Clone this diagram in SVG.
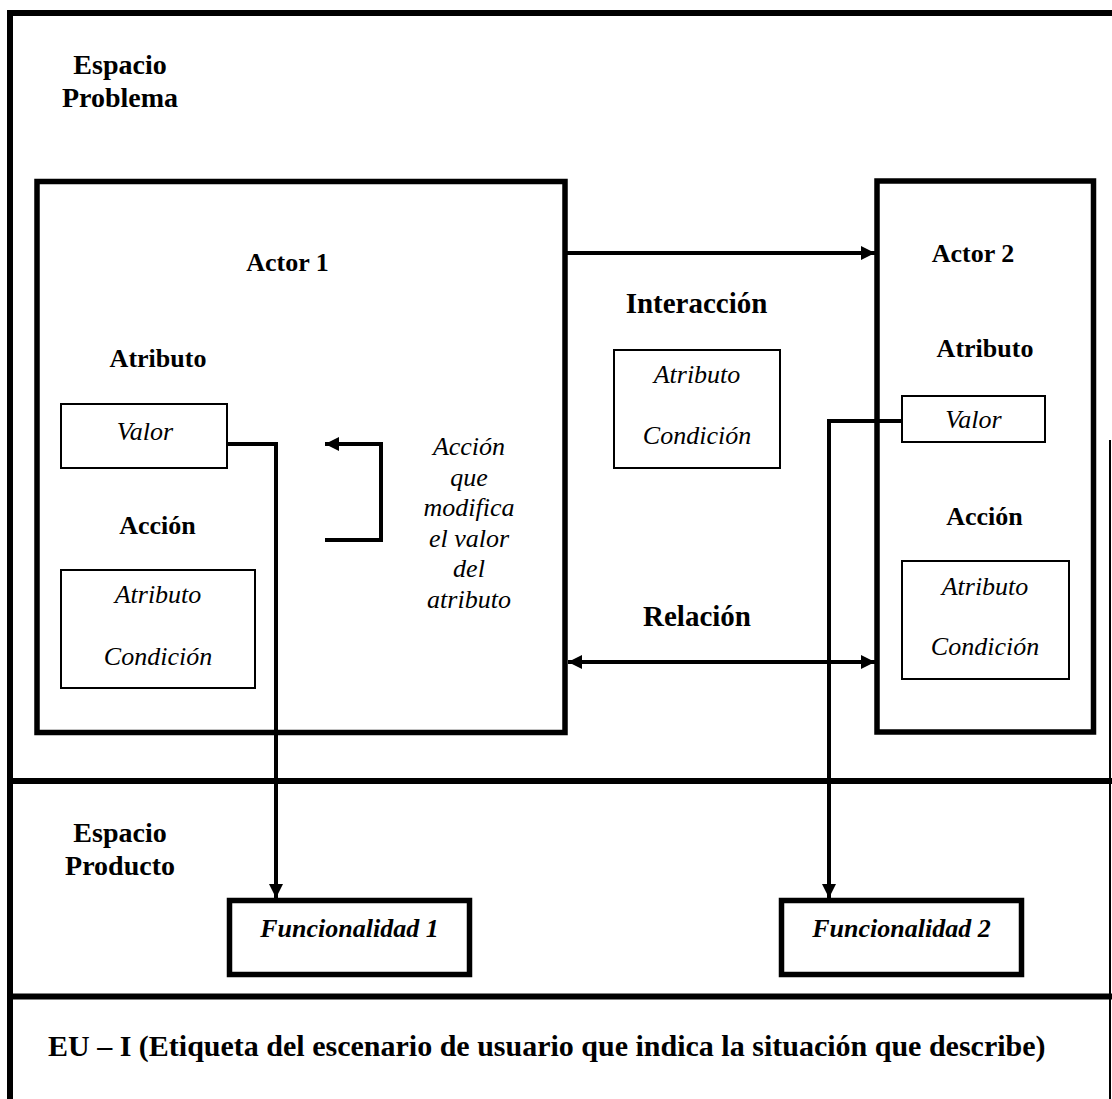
<svg xmlns="http://www.w3.org/2000/svg" width="1112" height="1099" viewBox="0 0 1112 1099">
<defs>
<style>
text{font-family:"Liberation Serif","Times New Roman",serif;fill:#000}
.b{font-weight:bold}
.h{font-size:28px;font-weight:bold}
.l{font-size:29px;font-weight:bold;text-anchor:middle}
.t{font-size:26px;font-weight:bold;text-anchor:middle}
.i{font-size:26px;font-style:italic;text-anchor:middle}
.f{font-size:26px;font-style:italic;font-weight:bold;text-anchor:middle}
.thick{fill:none;stroke:#000;stroke-width:5.5}
.thin{fill:#fff;stroke:#000;stroke-width:2}
.fb{fill:#fff;stroke:#000;stroke-width:5.5}
.con{fill:none;stroke:#000;stroke-width:4}
.sep{stroke:#000;stroke-width:6}
</style>
<marker id="ah" viewBox="0 0 14 14" refX="14" refY="7" markerWidth="14" markerHeight="14" markerUnits="userSpaceOnUse" orient="auto-start-reverse">
<path d="M0,0 L14,7 L0,14 Z" fill="#000"/>
</marker>
</defs>
<rect width="1112" height="1099" fill="#fff"/>
<g id="frame">
<line class="sep" x1="7" y1="13" x2="1112" y2="13"/>
<line class="sep" x1="10" y1="10" x2="10" y2="1099" stroke-width="6.5"/>
<line stroke="#000" stroke-width="2" x1="1110" y1="440" x2="1110" y2="1099"/>
<line class="sep" x1="10" y1="781" x2="1112" y2="781"/>
<line class="sep" x1="10" y1="996.5" x2="1112" y2="996.5" stroke-width="7"/>
</g>
<g id="espacio-problema">
<text class="h" x="120" y="74" text-anchor="middle">Espacio</text>
<text class="h" x="120" y="107" text-anchor="middle">Problema</text>
</g>
<g id="actor1">
<rect class="thick" x="37" y="181.5" width="528" height="551"/>
<text class="t" x="287.5" y="271">Actor 1</text>
<text class="t" x="158" y="367">Atributo</text>
<text class="t" x="157.5" y="534">Acción</text>
</g>
<g id="valor1">
<rect class="thin" x="61" y="404" width="166" height="64"/>
<text class="i" x="145" y="440">Valor</text>
</g>
<g id="accion1">
<rect class="thin" x="61" y="570" width="194" height="118"/>
<text class="i" x="158" y="603">Atributo</text>
<text class="i" x="158" y="665">Condición</text>
</g>
<g id="accion-texto">
<text class="i" x="469" y="455">Acción</text>
<text class="i" x="469" y="485.5">que</text>
<text class="i" x="469" y="516">modifica</text>
<text class="i" x="469" y="546.5">el valor</text>
<text class="i" x="469" y="577">del</text>
<text class="i" x="469" y="607.5">atributo</text>
</g>
<g id="interaccion">
<text class="l" x="696.5" y="313">Interacción</text>
<rect class="thin" x="614" y="350" width="166" height="118"/>
<text class="i" x="697" y="383">Atributo</text>
<text class="i" x="697" y="444">Condición</text>
</g>
<g id="relacion">
<text class="l" x="697" y="626">Relación</text>
</g>
<g id="actor2">
<rect class="thick" x="877" y="181" width="216.5" height="551"/>
<text class="t" x="973" y="262">Actor 2</text>
<text class="t" x="985" y="357">Atributo</text>
<text class="t" x="984.5" y="525">Acción</text>
</g>
<g id="valor2">
<rect class="thin" x="902" y="396" width="143" height="46"/>
<text class="i" x="973.5" y="428">Valor</text>
</g>
<g id="accion2">
<rect class="thin" x="902" y="561" width="167" height="118"/>
<text class="i" x="985" y="595">Atributo</text>
<text class="i" x="985" y="655">Condición</text>
</g>
<g id="espacio-producto">
<text class="h" x="120" y="842" text-anchor="middle">Espacio</text>
<text class="h" x="120" y="875" text-anchor="middle">Producto</text>
</g>
<g id="funcionalidad1">
<rect class="fb" x="229.5" y="900.5" width="240" height="74"/>
<text class="f" x="349.5" y="937">Funcionalidad 1</text>
</g>
<g id="funcionalidad2">
<rect class="fb" x="781.5" y="900.5" width="240" height="74"/>
<text class="f" x="901.5" y="937">Funcionalidad 2</text>
</g>
<g id="etiqueta">
<text class="b" x="48" y="1056" font-size="30">EU – I (Etiqueta del escenario de usuario que indica la situación que describe)</text>
</g>
<g id="connectors">
<path class="con" d="M567,253 H875" marker-end="url(#ah)"/>
<path class="con" d="M568,662 H875" marker-start="url(#ah)" marker-end="url(#ah)"/>
<path class="con" d="M325,540 H381 V444 H325" marker-end="url(#ah)"/>
<path class="con" d="M227,444 H276 V898" marker-end="url(#ah)"/>
<path class="con" d="M902,421 H829 V898" marker-end="url(#ah)"/>
</g>
</svg>
